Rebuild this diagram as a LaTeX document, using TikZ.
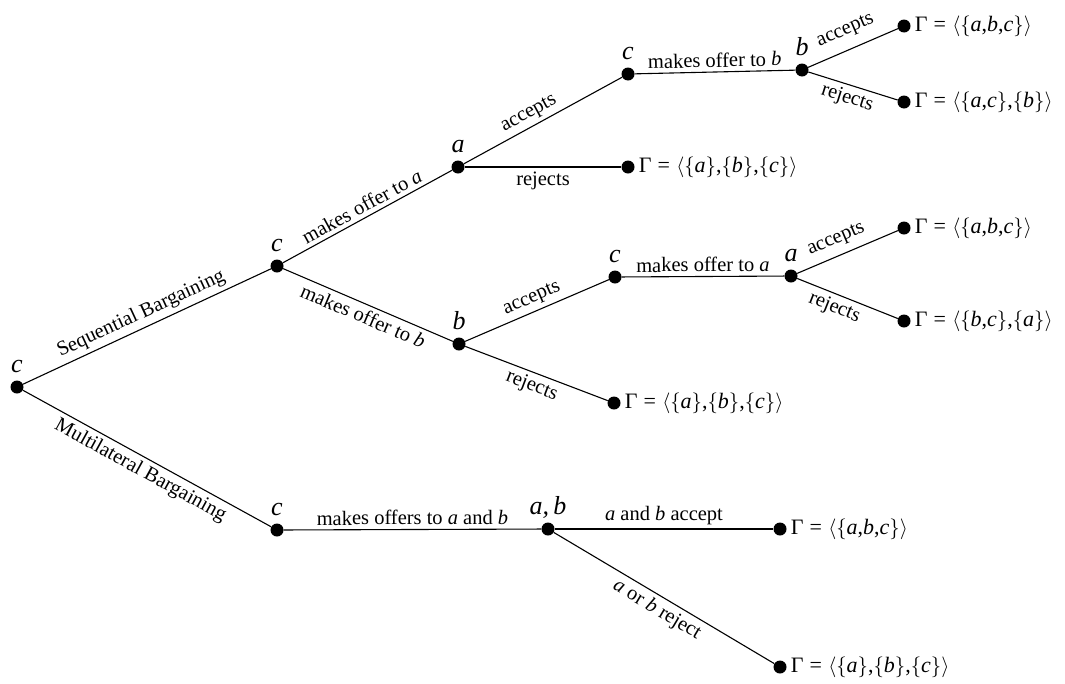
\documentclass[tikz,border=0pt]{standalone}
\usepackage{fontspec}
\setmainfont{Liberation Serif}
\newcommand\vv[1]{\textit{#1}}
\newcommand\setof[1]{$\bigl\{$#1$\bigr\}$}
\newcommand\outcome[1]{Γ\;=\;$\bigl\langle$#1$\bigr\rangle$}
\begin{document}
\begin{tikzpicture}[x=1pt,y=-1pt,
  dot/.style={circle,fill=black,inner sep=0pt,minimum size=13pt},
  edge/.style={line width=1.1pt},
  elab/.style={font=\fontsize{20.5}{23}\selectfont, sloped, inner sep=4pt},
  nlab/.style={font=\fontsize{26}{29}\selectfont\itshape, inner sep=0pt, text height=8pt, text depth=0pt, label distance=7.5pt},
  outc/.style={font=\fontsize{22}{26}\selectfont, inner sep=0pt, label distance=4pt},
]
\useasboundingbox (0,0) rectangle (1065,683);

% nodes
\node[dot, label={[nlab]above:c}] (r) at (17,387) {};
\node[dot, label={[nlab]above:c}] (c1) at (277,266) {};
\node[dot, label={[nlab]above:a}] (a1) at (458,167) {};
\node[dot, label={[nlab]above:c}] (c2) at (628,74) {};
\node[dot, label={[nlab]above:b}] (b2) at (802,70) {};
\node[dot, label={[outc]right:\outcome{\setof{\vv{a},\vv{b},\vv{c}}}}] (l1) at (904,26) {};
\node[dot, label={[outc]right:\outcome{\setof{\vv{a},\vv{c}},\setof{\vv{b}}}}] (l2) at (904,102) {};
\node[dot, label={[outc]right:\outcome{\setof{\vv{a}},\setof{\vv{b}},\setof{\vv{c}}}}] (l3) at (628,167) {};

\node[dot, label={[nlab]above:b}] (b1) at (459,344) {};
\node[dot, label={[nlab]above:c}] (c3) at (615,277) {};
\node[dot, label={[nlab]above:a}] (a3) at (791,276) {};
\node[dot, label={[outc]right:\outcome{\setof{\vv{a},\vv{b},\vv{c}}}}] (l4) at (904,228) {};
\node[dot, label={[outc]right:\outcome{\setof{\vv{b},\vv{c}},\setof{\vv{a}}}}] (l5) at (904,321) {};
\node[dot, label={[outc]right:\outcome{\setof{\vv{a}},\setof{\vv{b}},\setof{\vv{c}}}}] (l6) at (614,403) {};

\node[dot, label={[nlab]above:c}] (c4) at (277,530) {};
\node[dot, label={[nlab]above:{a,\,b}}] (ab) at (548,529) {};
\node[dot, label={[outc]right:\outcome{\setof{\vv{a},\vv{b},\vv{c}}}}] (l7) at (780,529) {};
\node[dot, label={[outc]right:\outcome{\setof{\vv{a}},\setof{\vv{b}},\setof{\vv{c}}}}] (l8) at (780,667) {};

% edges
\draw[edge] (r) -- node[elab,above] (e1) {Sequential Bargaining} (c1);
\draw[edge] (r) -- node[elab,below] (e2) {Multilateral Bargaining} (c4);
\draw[edge] (c1) -- node[elab,above] (e3) {makes offer to \vv{a}} (a1);
\draw[edge] (c1) -- node[elab,below] (e4) {makes offer to \vv{b}} (b1);
\draw[edge] (a1) -- node[elab,above,pos=0.45] (e5) {accepts} (c2);
\draw[edge] (a1) -- node[elab,below] (e6) {rejects} (l3);
\draw[edge] (c2) -- node[elab,above] (e7) {makes offer to \vv{b}} (b2);
\draw[edge] (b2) -- node[elab,above=6pt] (e8) {accepts} (l1);
\draw[edge] (b2) -- node[elab,below,pos=0.48] (e9) {rejects} (l2);
\draw[edge] (b1) -- node[elab,above] (e10) {accepts} (c3);
\draw[edge] (b1) -- node[elab,below] (e11) {rejects} (l6);
\draw[edge] (c3) -- node[elab,above] (e12) {makes offer to \vv{a}} (a3);
\draw[edge] (a3) -- node[elab,above=3pt,pos=0.45] (e13) {accepts} (l4);
\draw[edge] (a3) -- node[elab,below,pos=0.42] (e14) {rejects} (l5);
\draw[edge] (c4) -- node[elab,above] (e15) {makes offers to \vv{a} and \vv{b}} (ab);
\draw[edge] (ab) -- node[elab,above] (e16) {\vv{a} and \vv{b} accept} (l7);
\draw[edge] (ab) -- node[elab,below] (e17) {\vv{a} or \vv{b} reject} (l8);
\end{tikzpicture}
\end{document}
